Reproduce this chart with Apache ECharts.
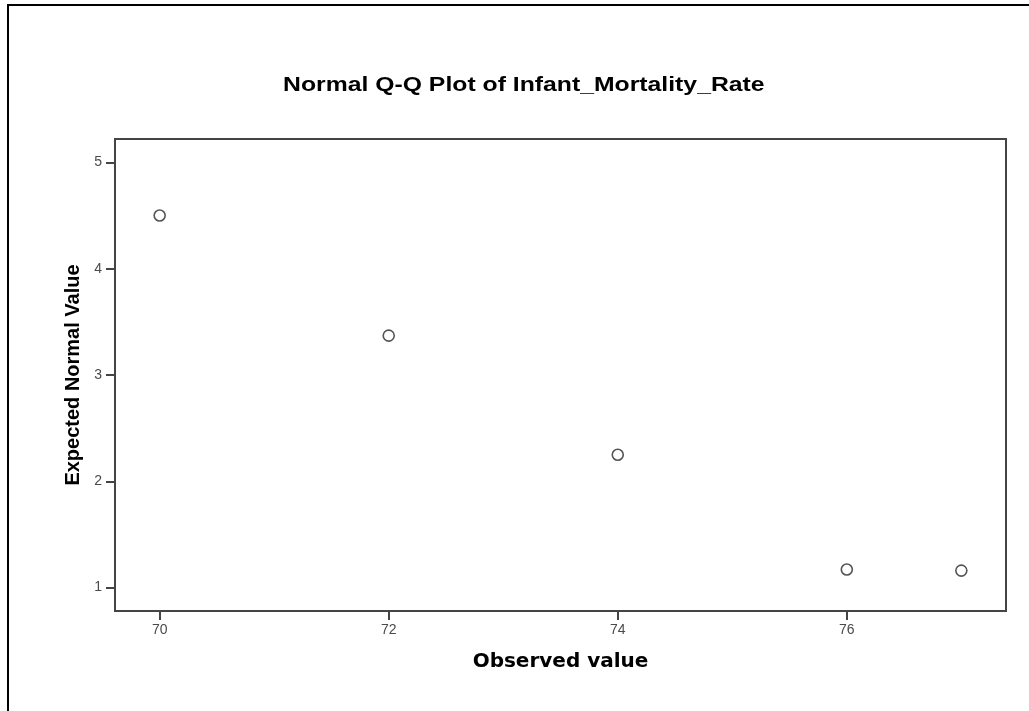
<!DOCTYPE html>
<html>
<head>
<meta charset="utf-8">
<script src="https://cdn.jsdelivr.net/npm/echarts@6/dist/echarts.min.js"></script>
<style>
html,body{margin:0;padding:0;background:#fff;}
#chart{width:1029px;height:711px;}
</style>
</head>
<body>
<div id="chart"></div>
<script>
var observed = [70, 72, 74, 76, 77];
var expected = [4.50, 3.37, 2.25, 1.17, 1.16];
var xTicks = [70, 72, 74, 76];
var yTicks = [1, 2, 3, 4, 5];
var titleText = 'Normal Q-Q Plot of Infant_Mortality_Rate';
var xName = 'Observed value';
var yName = 'Expected Normal Value';

var points = observed.map(function (v, i) { return [v, expected[i]]; });

var chart = echarts.init(document.getElementById('chart'), null, {renderer: 'canvas'});
chart.setOption({
  animation: false,
  backgroundColor: '#fff',
  graphic: [
    {type: 'line', shape: {x1: 8, y1: 5, x2: 1029, y2: 5}, style: {stroke: '#000', lineWidth: 2}},
    {type: 'line', shape: {x1: 8, y1: 4, x2: 8, y2: 711}, style: {stroke: '#000', lineWidth: 2}},
    {type: 'text', x: 283, y: 86, scaleX: 1.27, scaleY: 1,
      style: {text: titleText, x: 0, y: 0, fill: '#000',
        font: 'bold 19.5px "Liberation Sans", Arial, sans-serif',
        textAlign: 'left', textVerticalAlign: 'middle', verticalAlign: 'middle'}}
  ],
  grid: {
    left: 115, top: 139, right: 23, bottom: 100,
    show: true, borderColor: '#444', borderWidth: 2, backgroundColor: '#fff'
  },
  xAxis: {
    type: 'value',
    min: 69.61, max: 77.39,
    name: xName,
    nameLocation: 'middle',
    nameGap: 41,
    nameTextStyle: {fontFamily: 'DejaVu Sans', fontWeight: 'bold', fontSize: 20, color: '#000'},
    axisLine: {show: true, onZero: false, lineStyle: {color: '#444', width: 2}},
    axisTick: {show: true, length: 9, lineStyle: {color: '#444', width: 2}, customValues: xTicks},
    axisLabel: {customValues: xTicks, color: '#4a4a4a', fontFamily: 'Liberation Sans, Arial', fontSize: 14, margin: 12},
    splitLine: {show: false}
  },
  yAxis: {
    type: 'value',
    min: 0.78, max: 5.22,
    name: yName,
    nameLocation: 'middle',
    nameGap: 30,
    nameRotate: 90,
    nameTextStyle: {fontFamily: 'Liberation Sans, Arial', fontWeight: 'bold', fontSize: 20, color: '#000'},
    axisLine: {show: true, onZero: false, lineStyle: {color: '#444', width: 2}},
    axisTick: {show: true, length: 9, lineStyle: {color: '#444', width: 2}, customValues: yTicks},
    axisLabel: {customValues: yTicks, color: '#4a4a4a', fontFamily: 'Liberation Sans, Arial', fontSize: 14, margin: 13},
    splitLine: {show: false}
  },
  series: [{
    type: 'scatter',
    data: points,
    symbol: 'circle',
    symbolSize: 11,
    itemStyle: {color: '#fff', borderColor: '#555', borderWidth: 1.6, opacity: 1}
  }]
});
</script>
</body>
</html>
